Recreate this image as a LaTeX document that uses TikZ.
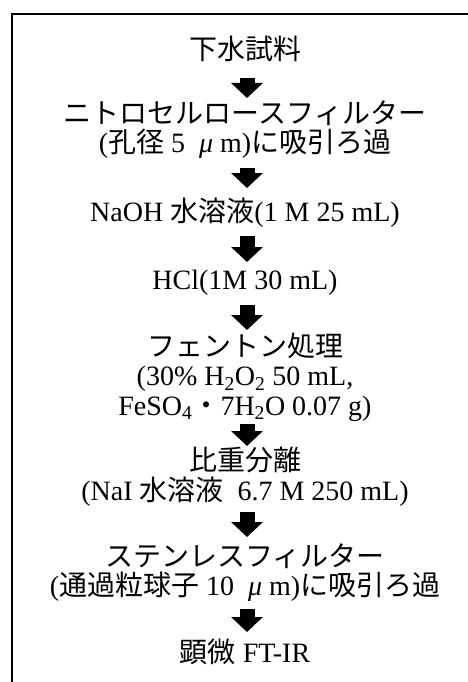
\documentclass[tikz,border=0pt]{standalone}
\usepackage{fontspec}
\setmainfont{Liberation Serif}
\newfontfamily\jpfont{Noto Sans CJK JP}
\newcommand\J[1]{{\jpfont #1}}
\newcommand\mymu{\makebox[1em]{\textit{μ}}}
\usetikzlibrary{arrows.meta}
\begin{document}
\begin{tikzpicture}[x=1pt,y=-1pt,
  txt/.style={align=center,inner sep=0pt,font=\fontsize{28}{29.5}\selectfont},
  flowarrow/.style={line width=15pt,-{Triangle[width=31pt,length=15pt]}},
  frame/.style={line width=2pt}]
\useasboundingbox (0,0) rectangle (467,682);
\draw[frame] (12,684) -- (12,14) -- (469,14);

\node[txt] (n1) at (245,49) {\J{下水試料}};
\node[txt] (n2) at (245,129.5) {\J{ニトロセルロースフィルター}\\(\J{孔径} 5\ \mymu m)\J{に吸引ろ過}};
\node[txt] (n3) at (245,213) {NaOH \J{水溶液}(1 M 25 mL)};
\node[txt] (n4) at (245,283) {HCl(1M 30 mL)};
\node[txt] (n5) at (245,377) {\J{フェントン処理}\\(30\% H\textsubscript{2}O\textsubscript{2} 50 mL,\\FeSO\textsubscript{4}\J{・}7H\textsubscript{2}O 0.07 g)};
\node[txt] (n6) at (245,476.5) {\J{比重分離}\\(NaI \J{水溶液}\ \ 6.7 M 250 mL)};
\node[txt] (n7) at (245,572.5) {\J{ステンレスフィルター}\\(\J{通過粒球子} 10\ \mymu m)\J{に吸引ろ過}};
\node[txt] (n8) at (245,652) {\J{顕微} FT-IR};

\coordinate (a1s) at (247,78);  \coordinate (a1e) at (247,98);
\coordinate (a2s) at (247,168); \coordinate (a2e) at (247,188);
\coordinate (a3s) at (247,236); \coordinate (a3e) at (247,262);
\coordinate (a4s) at (247,305); \coordinate (a4e) at (247,330);
\coordinate (a5s) at (247,424); \coordinate (a5e) at (247,446);
\coordinate (a6s) at (247,512); \coordinate (a6e) at (247,537);
\coordinate (a7s) at (247,609); \coordinate (a7e) at (247,632);
\foreach \i in {1,...,7} {\draw[flowarrow] (a\i s) -- (a\i e);}
\end{tikzpicture}
\end{document}
